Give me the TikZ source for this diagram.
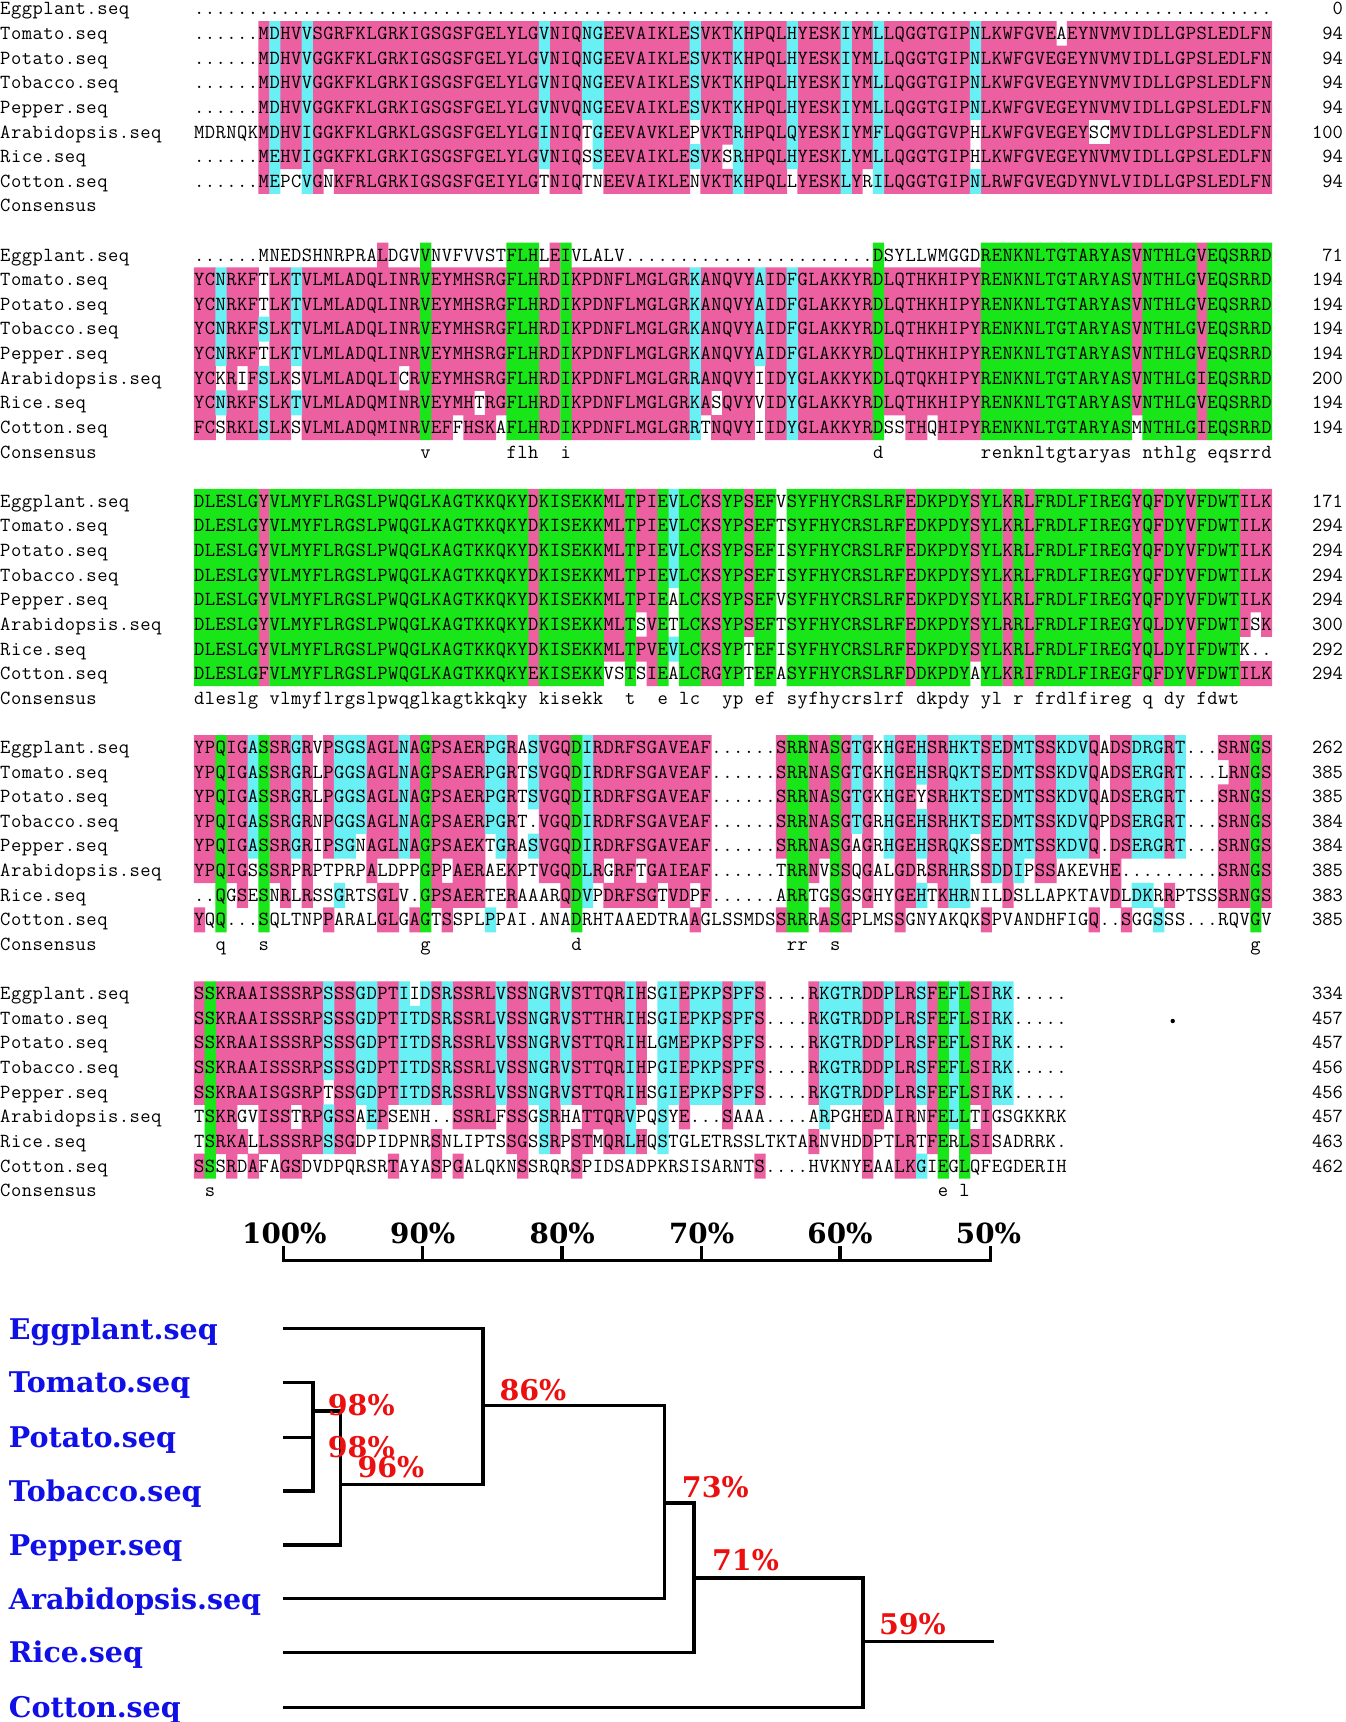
\documentclass[tikz,border=0pt]{standalone}
\usepackage{fontspec}
\newfontfamily\treefont{DejaVu Serif}
\definecolor{pk}{RGB}{236,96,162}
\definecolor{cy}{RGB}{105,240,245}
\definecolor{gr}{RGB}{25,230,25}
\definecolor{lblue}{RGB}{15,15,230}
\definecolor{lred}{RGB}{235,15,15}
\newcommand\seqfont{\ttfamily\fontsize{20}{20}\selectfont}
\ExplSyntaxOn
\cs_generate_variant:Nn \str_item:Nn {c}
\cs_generate_variant:Nn \str_map_function:NN {c}
\cs_generate_variant:Nn \str_remove_all:Nn {c}
\bool_new:N \l_sa_isres_bool
\bool_new:N \l_sa_col_bool
\int_new:N \l_sa_cnt_int
\int_new:N \l_sa_max_int
\tl_new:N \l_sa_colour_tl
\tl_new:N \l_sa_pk_tl
\tl_new:N \l_sa_cy_tl
\tl_new:N \l_sa_gr_tl
\tl_new:N \l_sa_cons_tl
\tl_new:N \l_sa_yb_tl
\seq_new:N \l_sa_rows_seq
\seq_new:N \l_sa_nums_seq
\str_const:Nn \c_sa_sim_str {DE,ED,IV,VI,IL,LI,VL,LV,KR,RK,FY,YF,SG,GS,HQ,QH,FL,LF,ML,LM,MI,IM}
\str_const:Nn \c_sa_letters_str {ABCDEFGHIJKLMNOPQRSTUVWXYZ}
\str_const:cn {c_sa_name_1_str} {Eggplant.seq}
\str_const:cn {c_sa_name_2_str} {Tomato.seq}
\str_const:cn {c_sa_name_3_str} {Potato.seq}
\str_const:cn {c_sa_name_4_str} {Tobacco.seq}
\str_const:cn {c_sa_name_5_str} {Pepper.seq}
\str_const:cn {c_sa_name_6_str} {Arabidopsis.seq}
\str_const:cn {c_sa_name_7_str} {Rice.seq}
\str_const:cn {c_sa_name_8_str} {Cotton.seq}
\str_const:cn {c_sa_name_9_str} {Consensus}
\int_step_inline:nn {8}
 {
  \str_new:c {l_sa_row_#1_str}
  \tl_new:c {l_sa_ch_#1_tl}
  \int_new:c {l_sa_cnt_#1_int}
  \bool_new:c {l_sa_res_#1_bool}
 }
\cs_new_protected:Npn \sa_box:n #1
 { \hbox_to_wd:nn {10.78pt} { \hss #1 \hss } }
\cs_new_protected:Npn \sa_set_isres:n #1
 {
  \bool_set_false:N \l_sa_isres_bool
  \tl_if_blank:nF {#1}
   { \str_if_in:NnT \c_sa_letters_str {#1} { \bool_set_true:N \l_sa_isres_bool } }
 }
\cs_new_protected:Npn \sa_column:nn #1 #2
 {
  \int_step_inline:nn {8}
   {
    \tl_set:cx {l_sa_ch_##1_tl} { \str_item:cn {l_sa_row_##1_str} {#2} }
    \exp_args:Nv \sa_set_isres:n {l_sa_ch_##1_tl}
    \bool_if:NTF \l_sa_isres_bool
     { \bool_set_true:c {l_sa_res_##1_bool} }
     { \bool_set_false:c {l_sa_res_##1_bool} }
   }
  \int_zero:N \l_sa_max_int
  \int_step_inline:nn {8}
   {
    \int_zero:N \l_sa_cnt_int
    \bool_if:cT {l_sa_res_##1_bool}
     {
      \int_step_inline:nn {8}
       {
        \str_if_eq:eeT { \tl_use:c {l_sa_ch_##1_tl} } { \tl_use:c {l_sa_ch_####1_tl} }
         { \int_incr:N \l_sa_cnt_int }
       }
     }
    \int_set_eq:cN {l_sa_cnt_##1_int} \l_sa_cnt_int
    \int_compare:nNnT \l_sa_cnt_int > \l_sa_max_int
     { \int_set_eq:NN \l_sa_max_int \l_sa_cnt_int }
   }
  \tl_clear:N \l_sa_colour_tl
  \int_compare:nNnTF \l_sa_max_int = 8
   { \tl_set:Nn \l_sa_colour_tl {gr} }
   {
    \int_compare:nNnTF \l_sa_max_int > 5
     { \tl_set:Nn \l_sa_colour_tl {pk} }
     { \int_compare:nNnT \l_sa_max_int > 3 { \tl_set:Nn \l_sa_colour_tl {cy} } }
   }
  \int_compare:nNnTF \l_sa_max_int = 8
   { \tl_put_right:Nx \l_sa_cons_tl { \sa_box:n { \str_lowercase:f { \tl_use:c {l_sa_ch_1_tl} } } } }
   { \tl_put_right:Nn \l_sa_cons_tl { \sa_box:n {} } }
  \tl_if_empty:NF \l_sa_colour_tl
   {
    \int_step_inline:nn {8}
     {
      \bool_set_false:N \l_sa_col_bool
      \bool_if:cT {l_sa_res_##1_bool}
       {
        \int_step_inline:nn {8}
         {
          \int_compare:nNnT { \int_use:c {l_sa_cnt_####1_int} } = \l_sa_max_int
           {
            \str_if_eq:eeTF { \tl_use:c {l_sa_ch_##1_tl} } { \tl_use:c {l_sa_ch_####1_tl} }
             { \bool_set_true:N \l_sa_col_bool }
             {
              \exp_args:NNx \str_if_in:NnT \c_sa_sim_str
               { \tl_use:c {l_sa_ch_##1_tl} \tl_use:c {l_sa_ch_####1_tl} }
               { \bool_set_true:N \l_sa_col_bool }
             }
           }
         }
       }
      \bool_if:NT \l_sa_col_bool
       {
        \tl_put_right:cx {l_sa_ \l_sa_colour_tl _tl}
         {
          ( \fp_eval:n { 193.8 + (#2 - 1) * 10.78 } ,
            \fp_eval:n { 8.8 + 24.62 * ( 10 * (#1) + ##1 - 1 ) - 12.31 } )
          rectangle ++(11.2,25)
         }
       }
     }
   }
 }
\cs_new_protected:Npn \sa_block:nnn #1 #2 #3
 {
  \seq_set_from_clist:Nn \l_sa_rows_seq {#2}
  \seq_set_from_clist:Nn \l_sa_nums_seq {#3}
  \int_step_inline:nn {8}
   {
    \str_set:cx {l_sa_row_##1_str} { \seq_item:Nn \l_sa_rows_seq {##1} }
    \str_remove_all:cn {l_sa_row_##1_str} {~}
    \str_if_eq:eeT { \str_use:c {l_sa_row_##1_str} } { * }
     { \str_set:cx {l_sa_row_##1_str} { \prg_replicate:nn {100} {.} } }
   }
  \tl_clear:N \l_sa_pk_tl
  \tl_clear:N \l_sa_cy_tl
  \tl_clear:N \l_sa_gr_tl
  \tl_clear:N \l_sa_cons_tl
  \int_step_inline:nn {100} { \sa_column:nn {#1} {##1} }
  \use:x { \exp_not:N \fill [pk] \l_sa_pk_tl ; }
  \use:x { \exp_not:N \fill [cy] \l_sa_cy_tl ; }
  \use:x { \exp_not:N \fill [gr] \l_sa_gr_tl ; }
  \int_step_inline:nn {8}
   {
    \tl_set:Nx \l_sa_yb_tl { \fp_eval:n { 8.8 + 24.62 * ( 10 * (#1) + ##1 - 1 ) + 6.1 } }
    \use:x
     {
      \exp_not:N \node [seqtxt, anchor=base~west] (s#1r##1) at (193.8, \l_sa_yb_tl)
       { \str_map_function:cN {l_sa_row_##1_str} \sa_box:n } ;
      \exp_not:N \node [seqtxt, anchor=base~west] (n#1r##1) at (0, \l_sa_yb_tl)
       { \str_map_function:cN {c_sa_name_##1_str} \sa_box:n } ;
      \exp_not:N \node [seqtxt, anchor=base~east] (e#1r##1) at (1343, \l_sa_yb_tl)
       { \seq_item:Nn \l_sa_nums_seq {##1} } ;
     }
   }
  \tl_set:Nx \l_sa_yb_tl { \fp_eval:n { 8.8 + 24.62 * ( 10 * (#1) + 8 ) + 6.1 } }
  \use:x
   {
    \exp_not:N \node [seqtxt, anchor=base~west] (c#1) at (193.8, \l_sa_yb_tl)
     { \exp_not:V \l_sa_cons_tl } ;
    \exp_not:N \node [seqtxt, anchor=base~west] (cn#1) at (0, \l_sa_yb_tl)
     { \str_map_function:cN {c_sa_name_9_str} \sa_box:n } ;
   }
 }
\NewDocumentCommand \AlnBlock { m m m } { \sa_block:nnn {#1} {#2} {#3} }
\ExplSyntaxOff
\begin{document}
\begin{tikzpicture}[x=1pt,y=-1pt,
  seqtxt/.style={inner sep=0pt, outer sep=0pt, font=\seqfont},
  treelab/.style={inner sep=0pt, anchor=base west, text=lblue, font=\treefont\bfseries\fontsize{28.5}{28.5}\selectfont},
  pct/.style={inner sep=0pt, text=lred, font=\treefont\bfseries\fontsize{28.5}{28.5}\selectfont},
  sclab/.style={inner sep=0pt, text=black, font=\treefont\bfseries\fontsize{27.8}{27.8}\selectfont},
  branch/.style={line width=3.5pt, line join=miter, draw=black}]
\useasboundingbox (0,0) rectangle (1345,1722);
\fill[white] (0,0) rectangle (1345,1722);

\AlnBlock{0}{*,
......MDHV VSGRFKLGRK IGSGSFGELY LGVNIQNGEE VAIKLESVKT KHPQLHYESK IYMLLQGGTG IPNLKWFGVE AEYNVMVIDL LGPSLEDLFN,
......MDHV VGGKFKLGRK IGSGSFGELY LGVNIQNGEE VAIKLESVKT KHPQLHYESK IYMLLQGGTG IPNLKWFGVE GEYNVMVIDL LGPSLEDLFN,
......MDHV VGGKFKLGRK IGSGSFGELY LGVNIQNGEE VAIKLESVKT KHPQLHYESK IYMLLQGGTG IPNLKWFGVE GEYNVMVIDL LGPSLEDLFN,
......MDHV VGGKFKLGRK IGSGSFGELY LGVNVQNGEE VAIKLESVKT KHPQLHYESK IYMLLQGGTG IPNLKWFGVE GEYNVMVIDL LGPSLEDLFN,
MDRNQKMDHV IGGKFKLGRK LGSGSFGELY LGINIQTGEE VAVKLEPVKT RHPQLQYESK IYMFLQGGTG VPHLKWFGVE GEYSCMVIDL LGPSLEDLFN,
......MEHV IGGKFKLGRK IGSGSFGELY LGVNIQSSEE VAIKLESVKS RHPQLHYESK LYMLLQGGTG IPHLKWFGVE GEYNVMVIDL LGPSLEDLFN,
......MEPC VGNKFRLGRK IGSGSFGEIY LGTNIQTNEE VAIKLENVKT KHPQLLYESK LYRILQGGTG IPNLRWFGVE GDYNVLVIDL LGPSLEDLFN}
{0,94,94,94,94,100,94,94}

\AlnBlock{1}{
......MNED SHNRPRALDG VVNVFVVSTF LHLEIVLALV .......... .......... ...DSYLLWM GGDRENKNLT GTARYASVNT HLGVEQSRRD,
YCNRKFTLKT VLMLADQLIN RVEYMHSRGF LHRDIKPDNF LMGLGRKANQ VYAIDFGLAK KYRDLQTHKH IPYRENKNLT GTARYASVNT HLGVEQSRRD,
YCNRKFTLKT VLMLADQLIN RVEYMHSRGF LHRDIKPDNF LMGLGRKANQ VYAIDFGLAK KYRDLQTHKH IPYRENKNLT GTARYASVNT HLGVEQSRRD,
YCNRKFSLKT VLMLADQLIN RVEYMHSRGF LHRDIKPDNF LMGLGRKANQ VYAIDFGLAK KYRDLQTHKH IPYRENKNLT GTARYASVNT HLGVEQSRRD,
YCNRKFTLKT VLMLADQLIN RVEYMHSRGF LHRDIKPDNF LMGLGRKANQ VYAIDFGLAK KYRDLQTHKH IPYRENKNLT GTARYASVNT HLGVEQSRRD,
YCKRIFSLKS VLMLADQLIC RVEYMHSRGF LHRDIKPDNF LMGLGRRANQ VYIIDYGLAK KYKDLQTQKH IPYRENKNLT GTARYASVNT HLGIEQSRRD,
YCNRKFSLKT VLMLADQMIN RVEYMHTRGF LHRDIKPDNF LMGLGRKASQ VYVIDYGLAK KYRDLQTHKH IPYRENKNLT GTARYASVNT HLGVEQSRRD,
FCSRKLSLKS VLMLADQMIN RVEFFHSKAF LHRDIKPDNF LMGLGRRTNQ VYIIDYGLAK KYRDSSTHQH IPYRENKNLT GTARYASMNT HLGIEQSRRD}
{71,194,194,194,194,200,194,194}

\AlnBlock{2}{
DLESLGYVLM YFLRGSLPWQ GLKAGTKKQK YDKISEKKML TPIEVLCKSY PSEFVSYFHY CRSLRFEDKP DYSYLKRLFR DLFIREGYQF DYVFDWTILK,
DLESLGYVLM YFLRGSLPWQ GLKAGTKKQK YDKISEKKML TPIEVLCKSY PSEFTSYFHY CRSLRFEDKP DYSYLKRLFR DLFIREGYQF DYVFDWTILK,
DLESLGYVLM YFLRGSLPWQ GLKAGTKKQK YDKISEKKML TPIEVLCKSY PSEFISYFHY CRSLRFEDKP DYSYLKRLFR DLFIREGYQF DYVFDWTILK,
DLESLGYVLM YFLRGSLPWQ GLKAGTKKQK YDKISEKKML TPIEVLCKSY PSEFISYFHY CRSLRFEDKP DYSYLKRLFR DLFIREGYQF DYVFDWTILK,
DLESLGYVLM YFLRGSLPWQ GLKAGTKKQK YDKISEKKML TPIEALCKSY PSEFVSYFHY CRSLRFEDKP DYSYLKRLFR DLFIREGYQF DYVFDWTILK,
DLESLGYVLM YFLRGSLPWQ GLKAGTKKQK YDKISEKKML TSVETLCKSY PSEFTSYFHY CRSLRFEDKP DYSYLRRLFR DLFIREGYQL DYVFDWTISK,
DLESLGYVLM YFLRGSLPWQ GLKAGTKKQK YDKISEKKML TPVEVLCKSY PTEFISYFHY CRSLRFEDKP DYSYLKRLFR DLFIREGYQL DYIFDWTK..,
DLESLGFVLM YFLRGSLPWQ GLKAGTKKQK YEKISEKKVS TSIEALCRGY PTEFASYFHY CRSLRFDDKP DYAYLKRIFR DLFIREGFQF DYVFDWTILK}
{171,294,294,294,294,300,292,294}

\AlnBlock{3}{
YPQIGASSRG RVPSGSAGLN AGPSAERPGR ASVGQDIRDR FSGAVEAF.. ....SRRNAS GTGKHGEHSR HKTSEDMTSS KDVQADSDRG RT...SRNGS,
YPQIGASSRG RLPGGSAGLN AGPSAERPGR TSVGQDIRDR FSGAVEAF.. ....SRRNAS GTGKHGEHSR QKTSEDMTSS KDVQADSERG RT...LRNGS,
YPQIGASSRG RLPGGSAGLN AGPSAERPGR TSVGQDIRDR FSGAVEAF.. ....SRRNAS GTGKHGEYSR HKTSEDMTSS KDVQADSERG RT...SRNGS,
YPQIGASSRG RNPGGSAGLN AGPSAERPGR T.VGQDIRDR FSGAVEAF.. ....SRRNAS GTGRHGEHSR HKTSEDMTSS KDVQPDSERG RT...SRNGS,
YPQIGASSRG RIPSGNAGLN AGPSAEKTGR ASVGQDIRDR FSGAVEAF.. ....SRRNAS GAGRHGEHSR QKSSEDMTSS KDVQ.DSERG RT...SRNGS,
YPQIGSSSRP RPTPRPALDP PGPPAERAEK PTVGQDLRGR FTGAIEAF.. ....TRRNVS SQGALGDRSR HRSSDDIPSS AKEVHE.... .....SRNGS,
..QGSESNRL RSSGRTSGLV .GPSAERTER AAARQDVPDR FSGTVDPF.. ....ARRTGS GSGHYGEHTK HRNILDSLLA PKTAVDLDKR RPTSSSRNGS,
YQQ...SQLT NPPARALGLG AGTSSPLPPA I.ANADRHTA AEDTRAAGLS SMDSSRRRAS GPLMSSGNYA KQKSPVANDH FIGQ..SGGS SS...RQVGV}
{262,385,385,384,384,385,383,385}

\AlnBlock{4}{
SSKRAAISSS RPSSSGDPTI IDSRSSRLVS SNGRVSTTQR IHSGIEPKPS PFS....RKG TRDDPLRSFE FLSIRK.....,
SSKRAAISSS RPSSSGDPTI TDSRSSRLVS SNGRVSTTHR IHSGIEPKPS PFS....RKG TRDDPLRSFE FLSIRK.....,
SSKRAAISSS RPSSSGDPTI TDSRSSRLVS SNGRVSTTQR IHLGMEPKPS PFS....RKG TRDDPLRSFE FLSIRK.....,
SSKRAAISSS RPSSSGDPTI TDSRSSRLVS SNGRVSTTQR IHPGIEPKPS PFS....RKG TRDDPLRSFE FLSIRK.....,
SSKRAAISGS RPTSSGDPTI TDSRSSRLVS SNGRVSTTQR IHSGIEPKPS PFS....RKG TRDDPLRSFE FLSIRK.....,
TSKRGVISST RPGSSAEPSE NH..SSRLFS SGSRHATTQR VPQSYE...S AAA....ARP GHEDAIRNFE LLTIGSGKKR K,
TSRKALLSSS RPSSGDPIDP NRSNLIPTSS GSSRPSTMQR LHQSTGLETR SSLTKTARNV HDDPTLRTFE RLSISADRRK .,
SSSRDAFAGS DVDPQRSRTA YASPGALQKN SSRQRSPIDS ADPKRSISAR NTS....HVK NYEAALKGIE GLQFEGDERI H}
{334,457,457,456,456,457,463,462}

\fill (1172.7,1021) circle (2.2);

% scale bar
\node[sclab] (s100) at (284.4,1233.6) {100\%};
\node[sclab] (s90) at (422.7,1233.6) {90\%};
\node[sclab] (s80) at (562.2,1233.6) {80\%};
\node[sclab] (s70) at (701.6,1233.6) {70\%};
\node[sclab] (s60) at (840.0,1233.6) {60\%};
\node[sclab] (s50) at (988.5,1233.6) {50\%};
\coordinate (k100t) at (283.3,1246.2); \coordinate (k100b) at (283.3,1260.5);
\coordinate (k90t) at (422.7,1246.2);  \coordinate (k90b) at (422.7,1260.5);
\coordinate (k80t) at (562.2,1246.2);  \coordinate (k80b) at (562.2,1260.5);
\coordinate (k70t) at (701.6,1246.2);  \coordinate (k70b) at (701.6,1260.5);
\coordinate (k60t) at (840.0,1246.2);  \coordinate (k60b) at (840.0,1260.5);
\coordinate (k50t) at (990.4,1246.2);  \coordinate (k50b) at (990.4,1260.5);
\draw[branch] (k100t) -- (k100b) -- (k50b) -- (k50t);
\draw[branch] (k90t) -- (k90b);
\draw[branch] (k80t) -- (k80b);
\draw[branch] (k70t) -- (k70b);
\draw[branch] (k60t) -- (k60b);

% tree labels
\node[treelab] (lab1) at (8.8,1339.0) {Eggplant.seq};
\node[treelab] (lab2) at (8.8,1392.8) {Tomato.seq};
\node[treelab] (lab3) at (8.8,1447.7) {Potato.seq};
\node[treelab] (lab4) at (8.8,1501.5) {Tobacco.seq};
\node[treelab] (lab5) at (8.8,1555.3) {Pepper.seq};
\node[treelab] (lab6) at (8.8,1609.1) {Arabidopsis.seq};
\node[treelab] (lab7) at (8.8,1662.9) {Rice.seq};
\node[treelab] (lab8) at (8.8,1717.8) {Cotton.seq};

\coordinate (L1) at (283.3,1328.6);
\coordinate (L2) at (283.3,1382.4);
\coordinate (L3) at (283.3,1437.3);
\coordinate (L4) at (283.3,1491.1);
\coordinate (L5) at (283.3,1544.9);
\coordinate (L6) at (283.3,1598.7);
\coordinate (L7) at (283.3,1652.5);
\coordinate (L8) at (283.3,1707.4);
\coordinate (c98) at (312.9,1410.9);
\coordinate (c96) at (340.4,1484.5);
\coordinate (c86) at (483.1,1405.4);
\coordinate (c73) at (664.3,1503.2);
\coordinate (c71) at (693.9,1577.8);
\coordinate (c59) at (863.0,1641.5);
\coordinate (root) at (993.7,1641.5);

\draw[branch] (L2) -- (L2 -| c98) -- (L4 -| c98) -- (L4);
\draw[branch] (L3) -- (L3 -| c98);
\draw[branch] (c98) -- (c98 -| c96) -- (L5 -| c96) -- (L5);
\draw[branch] (c96) -- (c96 -| c86) -- (L1 -| c86) -- (L1);
\draw[branch] (c86) -- (c86 -| c73) -- (L6 -| c73) -- (L6);
\draw[branch] (c73) -- (c73 -| c71) -- (L7 -| c71) -- (L7);
\draw[branch] (c71) -- (c71 -| c59) -- (L8 -| c59) -- (L8);
\draw[branch] (c59) -- (root);

\node[pct] (p98a) at (361.2,1405.4) {98\%};
\node[pct] (p98b) at (361.2,1447.2) {98\%};
\node[pct] (p96) at (390.9,1466.9) {96\%};
\node[pct] (p86) at (532.9,1390.1) {86\%};
\node[pct] (p73) at (715.3,1486.7) {73\%};
\node[pct] (p71) at (745.5,1560.3) {71\%};
\node[pct] (p59) at (912.4,1623.9) {59\%};
\end{tikzpicture}
\end{document}
